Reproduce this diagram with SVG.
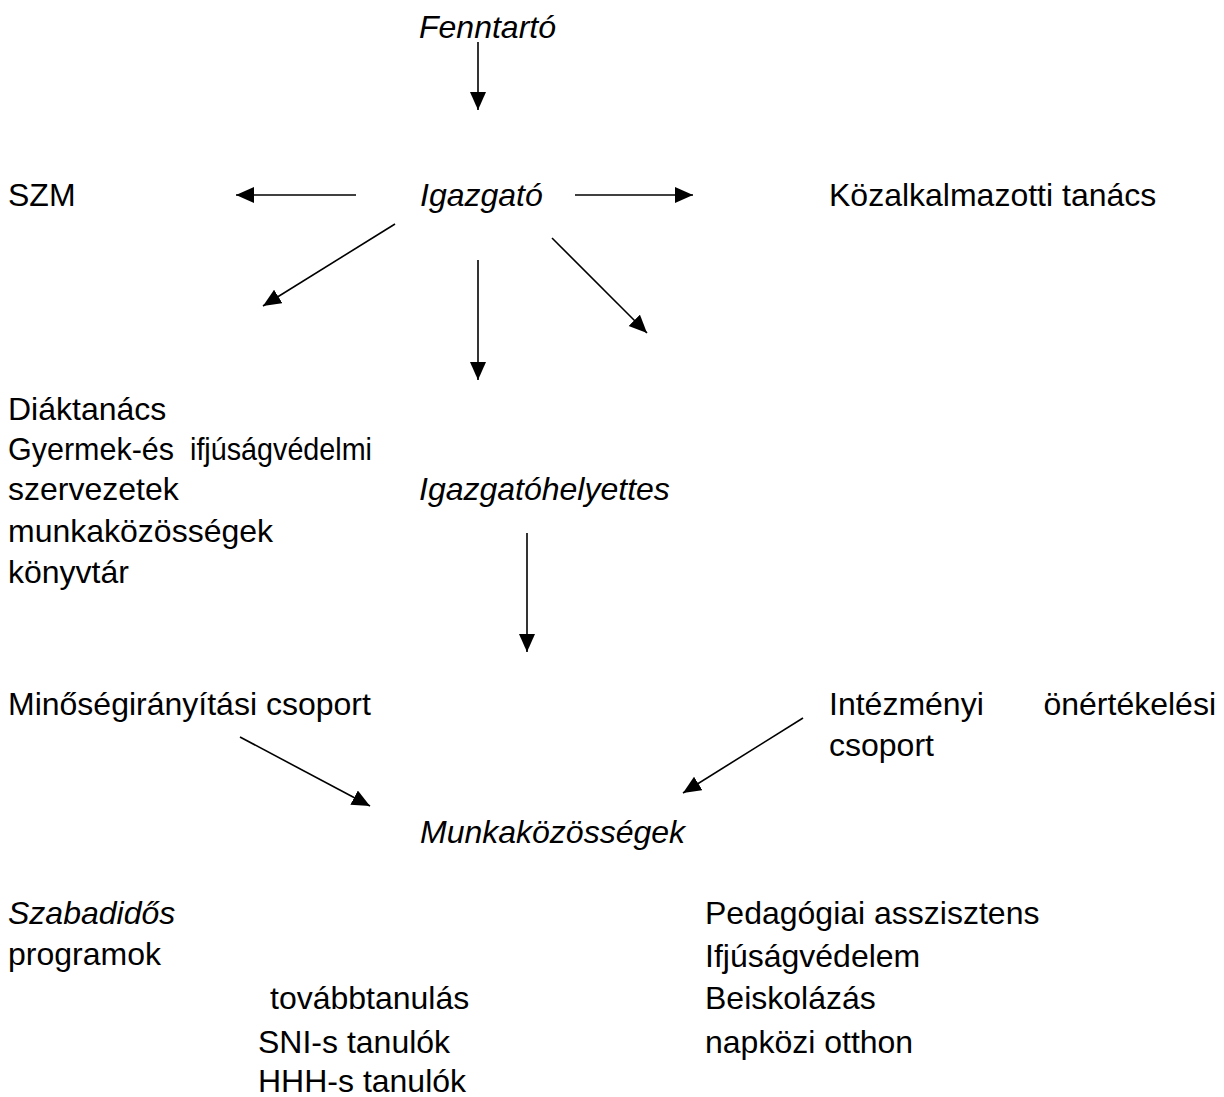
<svg xmlns="http://www.w3.org/2000/svg" width="1224" height="1097" viewBox="0 0 1224 1097">
<defs>
<marker id="ah" markerUnits="userSpaceOnUse" markerWidth="20" markerHeight="18" refX="18" refY="8" orient="auto">
<path d="M0,0 L18,8 L0,16 z" fill="#000"/>
</marker>
<style>
text{font-family:"Liberation Sans",Arial,sans-serif;font-size:32px;fill:#000}
.i{font-style:italic}
.c line{stroke:#000;stroke-width:1.6;marker-end:url(#ah)}
</style>
</defs>
<rect width="1224" height="1097" fill="#fff"/>
<g id="fenntarto"><text class="i" x="419" y="38">Fenntartó</text></g>
<g id="szm"><text x="8" y="206">SZM</text></g>
<g id="igazgato"><text class="i" x="420" y="206">Igazgató</text></g>
<g id="kozalkalmazotti"><text x="829" y="206">Közalkalmazotti tanács</text></g>
<g id="diak">
<text x="8" y="420">Diáktanács</text>
<text x="8" y="460" textLength="166" lengthAdjust="spacingAndGlyphs">Gyermek-és</text>
<text x="190" y="460" textLength="182" lengthAdjust="spacingAndGlyphs">ifjúságvédelmi</text>
<text x="8" y="500">szervezetek</text>
<text x="8" y="542">munkaközösségek</text>
<text x="8" y="583">könyvtár</text>
</g>
<g id="igazgatohelyettes"><text class="i" x="419" y="500">Igazgatóhelyettes</text></g>
<g id="minoseg"><text x="8" y="715">Minőségirányítási csoport</text></g>
<g id="intezmenyi">
<text x="829" y="715">Intézményi</text>
<text x="1216" y="715" text-anchor="end">önértékelési</text>
<text x="829" y="756">csoport</text>
</g>
<g id="munkakozossegek"><text class="i" x="420" y="843">Munkaközösségek</text></g>
<g id="szabadidos">
<text class="i" x="8" y="924">Szabadidős</text>
<text x="8" y="965">programok</text>
</g>
<g id="tovabbtanulas">
<text x="270" y="1009">továbbtanulás</text>
<text x="258" y="1053">SNI-s tanulók</text>
<text x="258" y="1092">HHH-s tanulók</text>
</g>
<g id="pedagogiai">
<text x="705" y="924">Pedagógiai asszisztens</text>
<text x="705" y="967">Ifjúságvédelem</text>
<text x="705" y="1009">Beiskolázás</text>
<text x="705" y="1053">napközi otthon</text>
</g>
<g id="connectors" class="c">
<line x1="478" y1="42" x2="478" y2="110"/>
<line x1="356" y1="195" x2="236" y2="195"/>
<line x1="575" y1="195" x2="693" y2="195"/>
<line x1="395" y1="224" x2="263" y2="306"/>
<line x1="478" y1="260" x2="478" y2="380"/>
<line x1="552" y1="238" x2="647" y2="333"/>
<line x1="527" y1="533" x2="527" y2="652"/>
<line x1="240" y1="737" x2="370" y2="806"/>
<line x1="803" y1="718" x2="683" y2="793"/>
</g>
</svg>
